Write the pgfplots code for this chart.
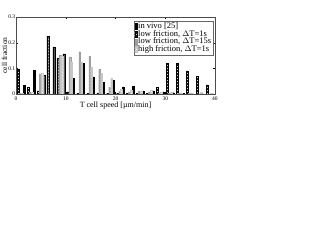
\documentclass[border=0pt]{standalone}
\usepackage{fontspec}
\setmainfont{Liberation Serif}
\usepackage{pgfplots}
\pgfplotsset{compat=1.18}
\usepackage{pgfplotstable}
\usetikzlibrary{patterns}

\pgfplotstableread{
c  vivo   low1   low15  high1
1  0.035  0.097  0.003  0.002
3  0.093  0.026  0.008  0.006
5  0.074  0.012  0.078  0.082
7  0.184  0.225  0.000  0.000
9  0.156  0.139  0.152  0.148
11 0.061  0.008  0.145  0.126
13 0.119  0.003  0.165  0.125
15 0.067  0.002  0.148  0.106
17 0.046  0.002  0.096  0.080
19 0.054  0.002  0.028  0.063
21 0.028  0.003  0.010  0.020
23 0.030  0.003  0.008  0.015
25 0.012  0.003  0.010  0.012
27 0.012  0.003  0.008  0.016
29 0.008  0.027  0.003  0.008
31 0.005  0.120  0.003  0.008
33 0.002  0.120  0.003  0.005
35 0.000  0.090  0.002  0.005
37 0.000  0.070  0.001  0.006
39 0.000  0.036  0.000  0.002
}\datatable

\begin{document}
\begin{tikzpicture}
\useasboundingbox (0,0) rectangle (314pt,243pt);
\begin{axis}[
  at={(16pt,149pt)}, anchor=south west,
  scale only axis, width=199pt, height=77pt,
  xmin=0, xmax=40, ymin=0, ymax=0.3,
  xtick={0,10,20,30,40},
  ytick={0,0.1,0.2,0.3},
  yticklabels={0,0.1,0.2,0.3},
  tick align=inside, major tick length=2pt,
  tick style={black, line width=0.3pt},
  axis line style={line width=0.4pt, black!70},
  /pgf/number format/assume math mode=true,
  ticklabel style={font=\fontsize{5.5}{5.5}\selectfont},
  xticklabel style={yshift=1pt},
  yticklabel style={inner sep=0.6pt, xshift=0pt},
  label style={font=\fontsize{8}{8}\selectfont},
  xlabel={T cell speed [µm/min]},
  ylabel={cell fraction},
  xlabel style={yshift=5pt},
  ylabel style={at={(axis description cs:-0.058,0.5)}, anchor=center, inner sep=0pt,
    font=\fontsize{7.5}{7.5}\selectfont},
  legend cell align=left,
  legend style={at={(rel axis cs:0.99,0.95)}, anchor=north east,
    font=\fontsize{8.5}{8.5}\selectfont, draw=black!60, line width=0.3pt,
    inner sep=0.5pt, row sep=-2.2pt, nodes={inner sep=1.2pt}},
  legend image code/.code={\draw[#1] (0pt,-3pt) rectangle (2.2pt,3pt);},
  bar width=0.35,
]
\addplot[ybar, bar shift=0.6, fill=black, draw=black, line width=0.2pt] table[x=c, y=vivo] {\datatable};
\addlegendentry{in vivo [25]}
\addplot[ybar, bar shift=-0.6, fill=black, draw=black, line width=0.2pt,
  postaction={pattern=north west lines, pattern color=white}] table[x=c, y=low1] {\datatable};
\addlegendentry{low friction, $\Delta$T=1s}
\addplot[ybar, bar shift=-0.2, fill=black!38, draw=black!38, line width=0.2pt] table[x=c, y=low15] {\datatable};
\addlegendentry{low friction, $\Delta$T=15s}
\addplot[ybar, bar shift=0.2, fill=black!22, draw=black!22, line width=0.2pt,
  postaction={pattern=north east lines, pattern color=white}] table[x=c, y=high1] {\datatable};
\addlegendentry{high friction, $\Delta$T=1s}
\end{axis}
\end{tikzpicture}
\end{document}
